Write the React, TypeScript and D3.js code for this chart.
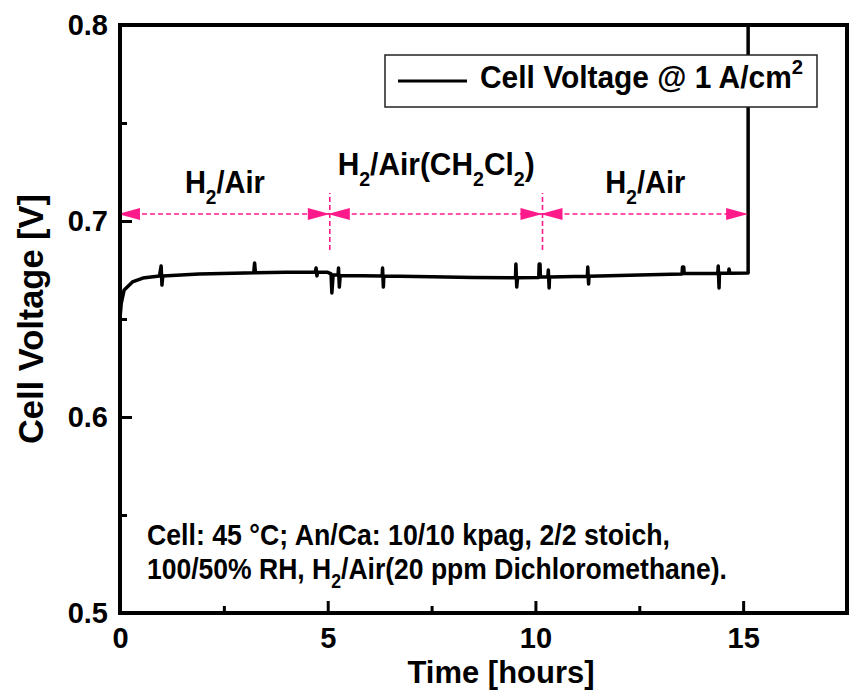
import React, { useEffect, useRef } from 'react';
import * as d3 from 'd3';

// cell voltage trace
const timeH = [
  0.0, 0.03, 0.1, 0.3, 0.55, 0.95, 0.99, 1.01, 1.03, 1.9, 3.0, 3.22, 3.24, 3.26,
  4.0, 4.7, 4.72, 4.74, 4.76, 5.0, 5.08, 5.1, 5.13, 5.25, 5.26, 5.28, 5.3,
  6.31, 6.32, 6.34, 6.35, 7.5, 8.5, 9.52, 9.53, 9.55, 9.57, 10.08, 10.09, 10.11,
  10.12, 10.3, 10.31, 10.33, 10.34, 11.25, 11.26, 11.28, 11.29, 12.5, 13.53,
  13.54, 13.57, 13.58, 14.39, 14.4, 14.42, 14.43, 14.65, 14.66, 14.68, 15.12, 15.12,
];
const cellV = [
  0.6505, 0.658, 0.6648, 0.6689, 0.6709, 0.6719, 0.677, 0.6673, 0.672, 0.673, 0.6735, 0.6736, 0.6786, 0.6736,
  0.6738, 0.674, 0.676, 0.672, 0.674, 0.6738, 0.673, 0.6633, 0.6725, 0.6725, 0.676, 0.6663, 0.6722,
  0.672, 0.676, 0.6663, 0.672, 0.6715, 0.6712, 0.671, 0.678, 0.6663, 0.671, 0.6712, 0.678, 0.678,
  0.6714, 0.6714, 0.675, 0.6658, 0.6714, 0.6718, 0.6765, 0.6679, 0.6718, 0.6725, 0.673,
  0.6765, 0.6765, 0.6732, 0.6733, 0.677, 0.6658, 0.6733, 0.6734, 0.6755, 0.6734, 0.6735, 0.85,
];

const xTicks = [0, 5, 10, 15];
const xMinor = [2.5, 7.5, 12.5];
const yTicks = [0.5, 0.6, 0.7, 0.8];
const yMinor = [0.55, 0.65, 0.75];

// gas feed phases
const phaseStart = [0, 5.05, 10.17];
const phaseEnd = [5.05, 10.17, 15.12];
const phaseLabels = [
  [['H', ''], ['2', 'sub'], ['/Air', '']],
  [['H', ''], ['2', 'sub'], ['/Air(CH', ''], ['2', 'sub'], ['Cl', ''], ['2', 'sub'], [')', '']],
  [['H', ''], ['2', 'sub'], ['/Air', '']],
];
const phaseLabelWidth = [80, 197, 80];
const arrowV = 0.7036;
const dividerT = [5.05, 10.17];
const dividerV = [0.6852, 0.7143];

const FONT = '"Liberation Sans", Arial, Helvetica, sans-serif';
const PINK = '#ff1a8c';

// append tspans with sub/superscript, resetting the baseline on the next run
const rich = (text, parts, size, small, shift) => {
  let cur = 0;
  parts.forEach(([txt, kind]) => {
    const off = kind === 'sub' ? shift : kind === 'sup' ? -shift : 0;
    text.append('tspan')
      .attr('font-size', kind ? small : size)
      .attr('dy', off - cur)
      .text(txt);
    cur = off;
  });
};

const App = () => {
  const ref = useRef(null);

  useEffect(() => {
    const svg = d3.select(ref.current);
    svg.selectAll('*').remove();

    const margin = { top: 25, left: 120 };
    const width = 727;
    const height = 588;

    const x = d3.scaleLinear().domain([0, 17.5]).range([0, width]);
    const y = d3.scaleLinear().domain([0.5, 0.8]).range([height, 0]);

    const g = svg.append('g')
      .attr('transform', `translate(${margin.left},${margin.top})`)
      .style('font-family', FONT)
      .style('font-weight', 'bold');

    g.append('clipPath').attr('id', 'plot-clip')
      .append('rect').attr('width', width).attr('height', height);

    // data line
    const pts = timeH.map((t, i) => [t, cellV[i]]);
    g.append('path')
      .datum(pts)
      .attr('clip-path', 'url(#plot-clip)')
      .attr('fill', 'none')
      .attr('stroke', '#000')
      .attr('stroke-width', 3.5)
      .attr('stroke-linejoin', 'round')
      .attr('d', d3.line().x(d => x(d[0])).y(d => y(d[1])));

    // phase arrows
    const ay = y(arrowV);
    const head = (tip, dir) => {
      const b = tip - dir * 22;
      return `M${tip},${ay}L${b},${ay - 6}L${b},${ay + 6}Z`;
    };
    phaseStart.forEach((s, i) => {
      const x0 = x(s);
      const x1 = x(phaseEnd[i]);
      g.append('line')
        .attr('x1', x0 - 2).attr('x2', x1)
        .attr('y1', ay).attr('y2', ay)
        .attr('stroke', PINK).attr('stroke-width', 1.6)
        .attr('stroke-dasharray', '5,3');
      g.append('path').attr('d', head(x0 - 2, -1)).attr('fill', PINK);
      g.append('path').attr('d', head(x1, 1)).attr('fill', PINK);

      const t = g.append('text')
        .attr('x', (x0 + x1) / 2)
        .attr('y', ay - (i === 1 ? 39 : 21))
        .attr('text-anchor', 'middle')
        .attr('font-size', 32)
        .attr('textLength', phaseLabelWidth[i])
        .attr('lengthAdjust', 'spacingAndGlyphs');
      rich(t, phaseLabels[i], 32, 21, 11);
    });
    dividerT.forEach(t => {
      g.append('line')
        .attr('x1', x(t)).attr('x2', x(t))
        .attr('y1', y(dividerV[0])).attr('y2', y(dividerV[1]))
        .attr('stroke', PINK).attr('stroke-width', 1.6)
        .attr('stroke-dasharray', '5,3');
    });

    // axes
    const xAxis = g.append('g').attr('transform', `translate(0,${height})`)
      .call(d3.axisBottom(x).tickValues(xTicks).tickSize(-12).tickPadding(14).tickFormat(d3.format('d')));
    g.append('g').attr('transform', `translate(0,${height})`)
      .call(d3.axisBottom(x).tickValues(xMinor).tickSize(-7).tickFormat(() => ''));
    const yAxis = g.append('g')
      .call(d3.axisLeft(y).tickValues(yTicks).tickSize(-12).tickPadding(12).tickFormat(d3.format('.1f')));
    g.append('g')
      .call(d3.axisLeft(y).tickValues(yMinor).tickSize(-7).tickFormat(() => ''));
    g.selectAll('.domain').remove();
    g.selectAll('.tick line').attr('stroke', '#000').attr('stroke-width', 3);
    [xAxis, yAxis].forEach(a => a.selectAll('text')
      .attr('fill', '#000')
      .style('font-family', FONT)
      .style('font-weight', 'bold')
      .style('font-size', '29px'));

    g.append('rect')
      .attr('width', width).attr('height', height)
      .attr('fill', 'none').attr('stroke', '#000').attr('stroke-width', 4);

    // axis titles
    g.append('text')
      .attr('x', 381).attr('y', 658)
      .attr('text-anchor', 'middle').attr('font-size', 32)
      .attr('textLength', 187).attr('lengthAdjust', 'spacingAndGlyphs')
      .text('Time [hours]');
    g.append('text')
      .attr('transform', `translate(${43 - margin.left},${height / 2}) rotate(-90)`)
      .attr('text-anchor', 'middle').attr('font-size', 35)
      .attr('textLength', 250).attr('lengthAdjust', 'spacingAndGlyphs')
      .text('Cell Voltage [V]');

    // legend
    const lg = g.append('g').attr('transform', `translate(${385 - margin.left},${55 - margin.top})`);
    lg.append('rect').attr('width', 432).attr('height', 52)
      .attr('fill', '#fff').attr('stroke', '#222').attr('stroke-width', 1.5);
    lg.append('line').attr('x1', 13).attr('x2', 82).attr('y1', 26).attr('y2', 26)
      .attr('stroke', '#000').attr('stroke-width', 3);
    const lt = lg.append('text').attr('x', 95).attr('y', 33).attr('font-size', 31)
      .attr('textLength', 323).attr('lengthAdjust', 'spacingAndGlyphs');
    rich(lt, [['Cell Voltage @ 1 A/cm', ''], ['2', 'sup']], 31, 21, 14);

    // condition note
    const n1 = g.append('text').attr('x', 27).attr('y', 520).attr('font-size', 30)
      .attr('textLength', 523).attr('lengthAdjust', 'spacingAndGlyphs');
    n1.text('Cell: 45 °C; An/Ca: 10/10 kpag, 2/2 stoich,');
    const n2 = g.append('text').attr('x', 27).attr('y', 554).attr('font-size', 30)
      .attr('textLength', 580).attr('lengthAdjust', 'spacingAndGlyphs');
    rich(n2, [['100/50% RH, H', ''], ['2', 'sub'], ['/Air(20 ppm Dichloromethane).', '']], 30, 20, 9);
  }, []);

  return (
    <svg ref={ref} width="851" height="697" style={{ position: 'absolute', left: 0, top: 0, background: '#fff' }} />
  );
};

export default App;
